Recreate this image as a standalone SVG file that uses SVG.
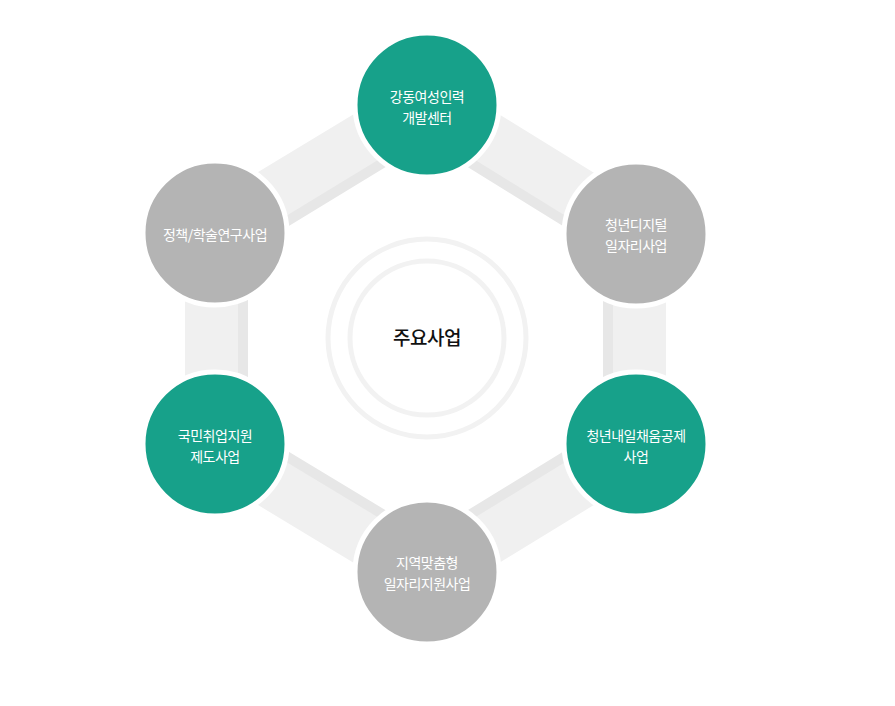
<svg xmlns="http://www.w3.org/2000/svg" width="895" height="706" viewBox="0 0 895 706">
<style>
.n{stroke:#fff;stroke-width:5}
.g{fill:#17a18a}.s{fill:#b4b4b4}
text{font-family:"Noto Sans CJK KR","Noto Sans",sans-serif;fill:#fff;font-size:14px;text-anchor:middle;letter-spacing:-0.5px}
</style>
<rect width="895" height="706" fill="#fff"/>
<g id="connectors">
<polygon points="427,105 636,234 636,444 427,572 215,444 215,233" fill="none" stroke="#f0f0f0" stroke-width="60" stroke-linejoin="bevel"/>
<polygon points="427,136 608,248 608,430 427,541 243,430 243,248" fill="none" stroke="#e7e7e7" stroke-width="10" stroke-linejoin="bevel"/>
</g>
<g id="center">
<circle cx="427" cy="338" r="99" fill="none" stroke="#f2f2f2" stroke-width="5"/>
<circle cx="427" cy="338" r="77" fill="none" stroke="#f2f2f2" stroke-width="5"/>
<text x="427" y="345" style="fill:#111;font-size:19px;font-weight:500">주요사업</text>
</g>
<g id="n1"><circle class="n g" cx="427" cy="105" r="72"/><text x="427" y="102">강동여성인력</text><text x="427" y="123">개발센터</text></g>
<g id="n2"><circle class="n s" cx="636" cy="234" r="72"/><text x="636" y="230">청년디지털</text><text x="636" y="251">일자리사업</text></g>
<g id="n3"><circle class="n g" cx="636" cy="444" r="72"/><text x="636" y="441">청년내일채움공제</text><text x="636" y="462">사업</text></g>
<g id="n4"><circle class="n s" cx="427" cy="572" r="72"/><text x="427" y="568">지역맞춤형</text><text x="427" y="589">일자리지원사업</text></g>
<g id="n5"><circle class="n g" cx="215" cy="444" r="72"/><text x="215" y="441">국민취업지원</text><text x="215" y="462">제도사업</text></g>
<g id="n6"><circle class="n s" cx="215" cy="233" r="72"/><text x="215" y="240">정책/학술연구사업</text></g>
</svg>
